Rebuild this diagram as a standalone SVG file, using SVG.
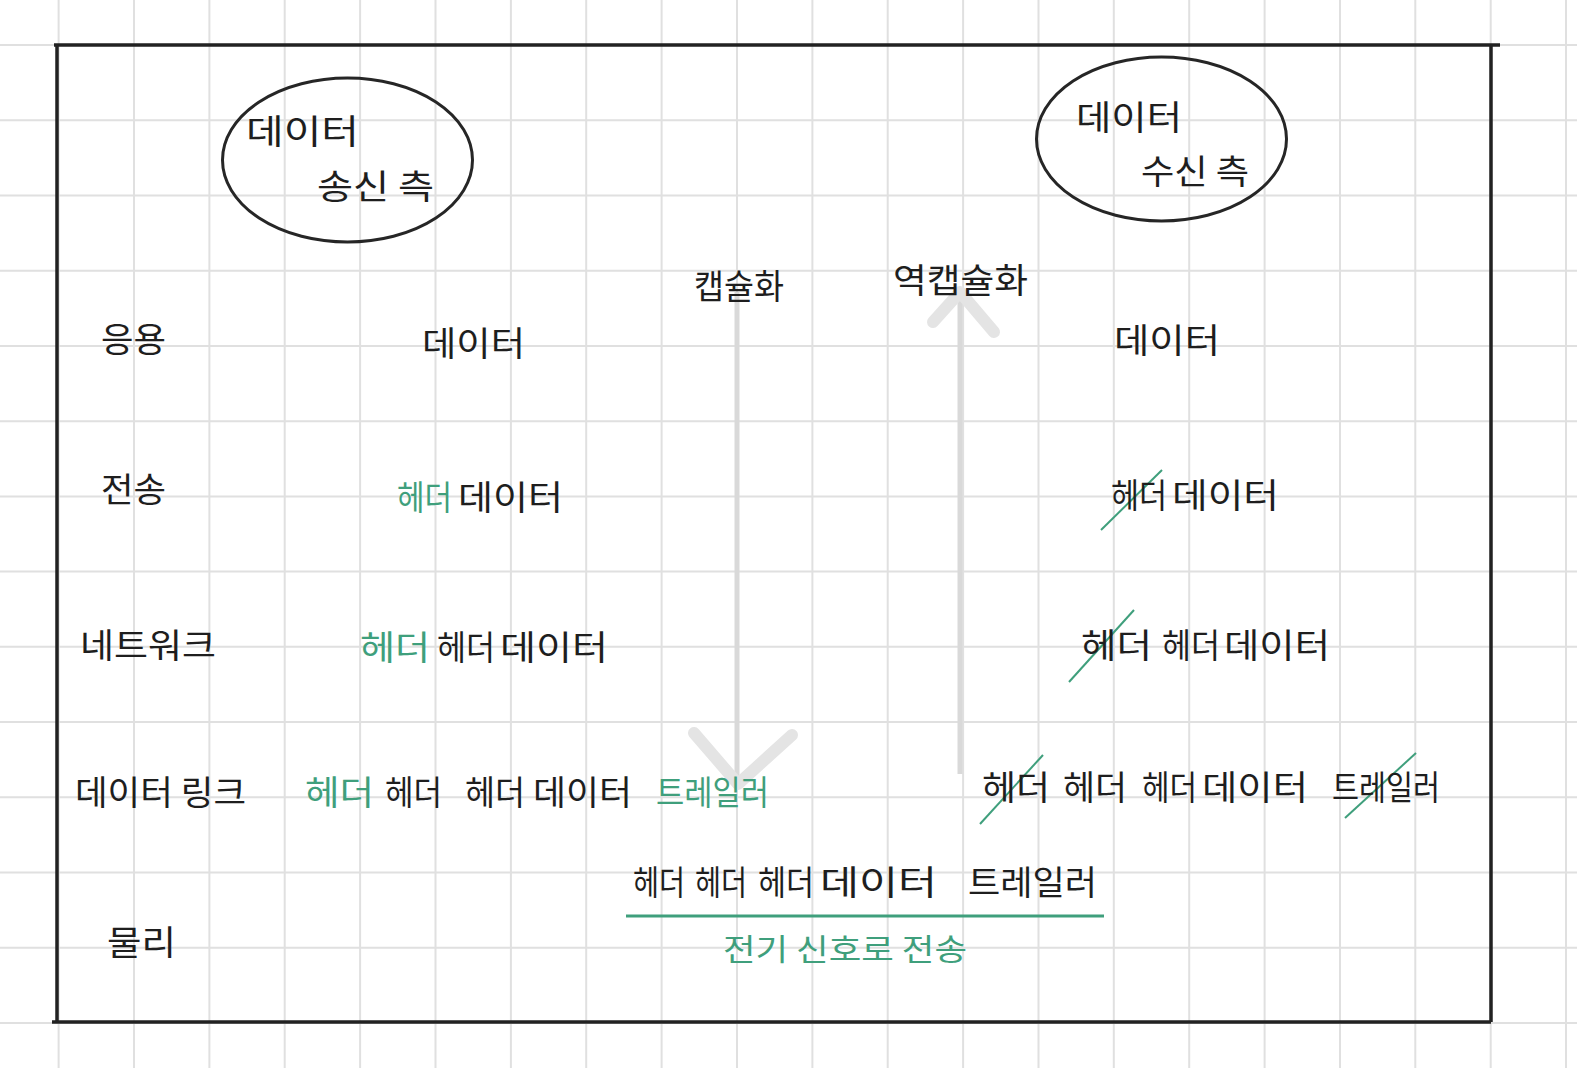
<svg xmlns="http://www.w3.org/2000/svg" width="1577" height="1068" viewBox="0 0 1577 1068">
<style>
text{font-family:"Noto Sans CJK KR","Noto Sans",sans-serif;font-size:34px;fill:#1e1e1e}
.g{fill:#3f9f7c}
.grid{stroke:#e0e0e0;stroke-width:2;fill:none}
.ell{fill:none;stroke:#262626;stroke-width:3}
.strike{stroke:#3f9f7c;stroke-width:2;fill:none}
.shaft{stroke:#d9d9d9;stroke-width:5;fill:none}
.head{stroke:#e4e4e4;stroke-width:12;fill:none;stroke-linecap:round;stroke-linejoin:round}
</style>
<rect width="1577" height="1068" fill="#ffffff"/>
<g id="grid" class="grid">
<path d="M58.6 0V1068M134 0V1068M209.4 0V1068M284.7 0V1068M360.1 0V1068M435.5 0V1068M510.9 0V1068M586.2 0V1068M661.6 0V1068M737 0V1068M812.4 0V1068M887.7 0V1068M963.1 0V1068M1038.5 0V1068M1113.8 0V1068M1189.2 0V1068M1264.6 0V1068M1340 0V1068M1415.3 0V1068M1490.7 0V1068M1566 0V1068"/>
<path d="M0 45H1577M0 120.2H1577M0 195.5H1577M0 270.7H1577M0 345.9H1577M0 421.2H1577M0 496.4H1577M0 571.6H1577M0 646.8H1577M0 722.1H1577M0 797.3H1577M0 872.5H1577M0 947.8H1577M0 1023H1577"/>
</g>
<g id="frame">
<path d="M54 45H1500M57 45V1022M1491 45V1022M52 1022H1491" stroke="#222" stroke-width="3.5" fill="none"/>
</g>
<g id="connectors">
<g id="encap-arrow">
<path class="shaft" d="M737 292V784"/>
<path class="head" d="M694 733L738 784L792 735"/>
</g>
<g id="decap-arrow">
<path class="shaft" d="M960 774V294"/>
<path class="head" d="M933 322L960 292L994 332"/>
</g>
<path class="strike" d="M1101 530L1162 470"/>
<path class="strike" d="M1069 682L1134 610"/>
<path class="strike" d="M980 824L1043 755"/>
<path class="strike" d="M1345 818L1416 753"/>
<path d="M626 916H1104" stroke="#3f9f7c" stroke-width="3"/>
</g>
<g id="sender">
<ellipse class="ell" cx="347.5" cy="160" rx="125" ry="82"/>
<text x="246" y="144" textLength="113" lengthAdjust="spacingAndGlyphs">데이터</text>
<text x="317" y="199" textLength="117" lengthAdjust="spacingAndGlyphs">송신 측</text>
</g>
<g id="receiver">
<ellipse class="ell" cx="1161.5" cy="139" rx="125" ry="82"/>
<text x="1076" y="130" textLength="106" lengthAdjust="spacingAndGlyphs">데이터</text>
<text x="1141" y="184" textLength="108" lengthAdjust="spacingAndGlyphs">수신 측</text>
</g>
<g id="layers">
<text x="101" y="352" textLength="65" lengthAdjust="spacingAndGlyphs">응용</text>
<text x="101" y="502" textLength="65" lengthAdjust="spacingAndGlyphs">전송</text>
<text x="80" y="658" textLength="136" lengthAdjust="spacingAndGlyphs">네트워크</text>
<text x="75" y="805" textLength="171" lengthAdjust="spacingAndGlyphs">데이터 링크</text>
<text x="107" y="955" textLength="69" lengthAdjust="spacingAndGlyphs">물리</text>
</g>
<g id="encap-label"><text x="694" y="299" textLength="90" lengthAdjust="spacingAndGlyphs">캡슐화</text></g>
<g id="decap-label"><text x="893" y="293" textLength="135" lengthAdjust="spacingAndGlyphs">역캡슐화</text></g>
<g id="sender-app"><text x="422" y="356" textLength="103" lengthAdjust="spacingAndGlyphs">데이터</text></g>
<g id="sender-transport">
<text x="397" y="510" class="g" textLength="55" lengthAdjust="spacingAndGlyphs">헤더</text>
<text x="458" y="510" textLength="105" lengthAdjust="spacingAndGlyphs">데이터</text>
</g>
<g id="sender-network">
<text x="360" y="660" class="g" textLength="70" lengthAdjust="spacingAndGlyphs">헤더</text>
<text x="437" y="660" textLength="58" lengthAdjust="spacingAndGlyphs">헤더</text>
<text x="500" y="660" textLength="108" lengthAdjust="spacingAndGlyphs">데이터</text>
</g>
<g id="sender-datalink">
<text x="305" y="805" class="g" textLength="69" lengthAdjust="spacingAndGlyphs">헤더</text>
<text x="385" y="805" textLength="57" lengthAdjust="spacingAndGlyphs">헤더</text>
<text x="465" y="805" textLength="60" lengthAdjust="spacingAndGlyphs">헤더</text>
<text x="533" y="805" textLength="99" lengthAdjust="spacingAndGlyphs">데이터</text>
<text x="656" y="805" class="g" textLength="113" lengthAdjust="spacingAndGlyphs">트레일러</text>
</g>
<g id="receiver-app"><text x="1114" y="353" textLength="106" lengthAdjust="spacingAndGlyphs">데이터</text></g>
<g id="receiver-transport">
<text x="1111" y="508" textLength="56" lengthAdjust="spacingAndGlyphs">헤더</text>
<text x="1172" y="508" textLength="107" lengthAdjust="spacingAndGlyphs">데이터</text>
</g>
<g id="receiver-network">
<text x="1081" y="658" textLength="71" lengthAdjust="spacingAndGlyphs">헤더</text>
<text x="1162" y="658" textLength="58" lengthAdjust="spacingAndGlyphs">헤더</text>
<text x="1224" y="658" textLength="106" lengthAdjust="spacingAndGlyphs">데이터</text>
</g>
<g id="receiver-datalink">
<text x="982" y="800" textLength="68" lengthAdjust="spacingAndGlyphs">헤더</text>
<text x="1063" y="800" textLength="64" lengthAdjust="spacingAndGlyphs">헤더</text>
<text x="1142" y="800" textLength="55" lengthAdjust="spacingAndGlyphs">헤더</text>
<text x="1202" y="800" textLength="106" lengthAdjust="spacingAndGlyphs">데이터</text>
<text x="1332" y="800" textLength="108" lengthAdjust="spacingAndGlyphs">트레일러</text>
</g>
<g id="physical">
<text x="633" y="895" textLength="52" lengthAdjust="spacingAndGlyphs">헤더</text>
<text x="695" y="895" textLength="52" lengthAdjust="spacingAndGlyphs">헤더</text>
<text x="758" y="895" textLength="56" lengthAdjust="spacingAndGlyphs">헤더</text>
<text x="820" y="895" textLength="117" lengthAdjust="spacingAndGlyphs">데이터</text>
<text x="968" y="895" textLength="129" lengthAdjust="spacingAndGlyphs">트레일러</text>
<text x="723" y="960" class="g" style="font-size:30px" textLength="244" lengthAdjust="spacingAndGlyphs">전기 신호로 전송</text>
</g>
</svg>
